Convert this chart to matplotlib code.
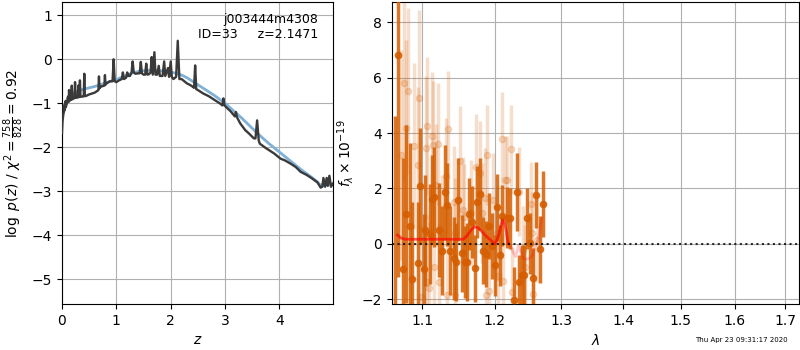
import matplotlib
matplotlib.use("Agg")
import matplotlib.pyplot as plt
from matplotlib.ticker import FixedLocator, FixedFormatter, NullLocator

# ---------------- left panel: p(z) ----------------
z_fit = [0.00, 0.01, 0.02, 0.03, 0.035, 0.04, 0.05, 0.06, 0.065, 0.07, 0.08, 0.09, 0.10, 0.11, 0.12,
         0.125, 0.13, 0.135, 0.15, 0.16, 0.17, 0.18, 0.19, 0.20, 0.22, 0.23, 0.24, 0.25, 0.28, 0.29,
         0.30, 0.31, 0.32, 0.33, 0.34, 0.38, 0.40, 0.41, 0.42, 0.45, 0.50, 0.55, 0.60, 0.65, 0.67,
         0.68, 0.69, 0.72, 0.78, 0.79, 0.80, 0.82, 0.88, 0.90, 0.93, 0.95, 0.97, 1.00, 1.05, 1.10,
         1.12, 1.14, 1.18, 1.20, 1.22, 1.25, 1.28, 1.30, 1.32, 1.35, 1.40, 1.43, 1.45, 1.47, 1.50,
         1.53, 1.55, 1.57, 1.60, 1.63, 1.65, 1.67, 1.70, 1.72, 1.75, 1.78, 1.80, 1.85, 1.88, 1.90,
         1.95, 1.97, 2.00, 2.02, 2.05, 2.10, 2.13, 2.16, 2.20, 2.25, 2.30, 2.35, 2.40, 2.43, 2.45,
         2.47, 2.50, 2.55, 2.60, 2.70, 2.80, 2.90, 2.95, 2.97, 2.99, 3.03, 3.10, 3.18, 3.20, 3.22,
         3.28, 3.37, 3.45, 3.53, 3.56, 3.59, 3.62, 3.64, 3.75, 3.90, 4.02, 4.10, 4.20, 4.30, 4.39,
         4.50, 4.60, 4.70, 4.76, 4.79, 4.81, 4.84, 4.87, 4.89, 4.92, 4.95, 4.99]
logp = [-1.68, -1.40, -1.30, -1.20, -1.05, -1.18, -1.12, -1.10, -0.95, -1.08, -1.05, -1.00, -0.98, -0.85, -0.97,
        -0.95, -0.70, -0.95, -0.93, -0.90, -0.92, -0.60, -0.91, -0.90, -0.89, -0.88, -0.52, -0.88, -0.87, -0.87,
        -0.60, -0.86, -0.86, -0.48, -0.85, -0.85, -0.84, -0.33, -0.84, -0.83, -0.80, -0.78, -0.76, -0.72, -0.70,
        -0.39, -0.66, -0.62, -0.60, -0.36, -0.58, -0.55, -0.50, -0.50, -0.50, 0.00, -0.50, -0.52, -0.48, -0.45,
        -0.30, -0.45, -0.42, -0.30, -0.38, -0.38, -0.30, -0.05, -0.30, -0.33, -0.32, -0.32, -0.06, -0.32, -0.35,
        -0.35, -0.10, -0.35, -0.34, -0.30, 0.05, -0.35, 0.16, -0.35, -0.35, -0.15, -0.38, -0.38, -0.05, -0.38,
        -0.20, -0.40, -0.05, -0.40, -0.45, -0.40, 0.42, -0.45, -0.45, -0.50, -0.55, -0.58, -0.62, -0.65, -0.14,
        -0.68, -0.70, -0.74, -0.78, -0.84, -0.92, -1.00, -1.05, -0.89, -1.05, -1.10, -1.18, -1.30, -1.20, -1.32,
        -1.46, -1.61, -1.70, -1.80, -1.80, -1.39, -1.85, -1.92, -2.02, -2.14, -2.26, -2.30, -2.37, -2.45, -2.56,
        -2.63, -2.71, -2.80, -2.92, -2.90, -2.70, -2.90, -2.70, -2.88, -2.65, -2.90, -2.82]

z_smooth = [0.00, 0.02, 0.05, 0.10, 0.20, 0.30, 0.40, 0.50, 0.60, 0.70, 0.80, 0.90, 1.00, 1.10, 1.20, 1.30,
            1.40, 1.50, 1.60, 1.70, 1.80, 1.90, 2.00, 2.10, 2.20, 2.30, 2.40, 2.50, 2.60, 2.70, 2.80, 2.90,
            3.00, 3.10, 3.20, 3.30, 3.40, 3.50, 3.60, 3.70, 3.80, 3.90, 4.00, 4.10, 4.20, 4.30, 4.40, 4.50,
            4.60, 4.70, 4.75, 4.80, 4.90, 4.99]
logp_smooth = [-1.40, -1.20, -1.05, -0.90, -0.78, -0.72, -0.68, -0.65, -0.62, -0.58, -0.54, -0.50, -0.46, -0.41,
               -0.36, -0.31, -0.28, -0.26, -0.25, -0.25, -0.26, -0.27, -0.29, -0.32, -0.36, -0.42, -0.50, -0.58,
               -0.66, -0.74, -0.82, -0.91, -1.00, -1.11, -1.22, -1.33, -1.45, -1.57, -1.69, -1.80, -1.91, -2.01,
               -2.11, -2.21, -2.31, -2.41, -2.51, -2.60, -2.69, -2.79, -2.86, -2.85, -2.85, -2.85]

# ---------------- right panel: spectrum ----------------
lam_solid = [1.065, 1.069, 1.0757, 1.079, 1.084, 1.087, 1.094, 1.097, 1.102, 1.104, 1.110, 1.113, 1.116, 1.123,
             1.127, 1.131, 1.134, 1.137, 1.1425, 1.146, 1.149, 1.154, 1.158, 1.161, 1.164, 1.168, 1.1725, 1.1755,
             1.179, 1.183, 1.188, 1.1915, 1.196, 1.200, 1.2035, 1.2075, 1.211, 1.2175, 1.223, 1.2275, 1.232, 1.236,
             1.2395, 1.243, 1.248, 1.252, 1.256, 1.2605, 1.267, 1.2715]
flux_solid = [-2.60, 6.81, -0.91, 1.08, 0.65, -1.27, -0.70, 2.09, -0.91, 0.50, 0.35, 1.61, 1.70, 0.50,
              -0.24, 1.86, 1.41, -0.24, -0.52, -0.66, 1.59, -0.34, -0.64, -0.64, 1.08, 0.80, -0.88, 1.51,
              1.80, -0.24, -0.36, 0.65, -0.07, -0.76, 1.32, -0.40, 1.02, 0.95, 0.93, -2.02, 1.87, -1.38,
              -1.12, -1.12, 0.93, 0.02, -1.24, 1.77, -0.19, 1.44]
err_solid = [7.2, 8.0, 4.0, 3.2, 3.0, 2.8, 2.2, 2.1, 2.0, 2.0, 1.8, 1.6, 1.8, 1.7,
             1.6, 1.7, 1.5, 1.6, 1.5, 1.4, 1.5, 1.4, 1.3, 1.4, 1.3, 1.3, 1.2, 1.3,
             1.3, 1.2, 1.2, 1.2, 1.2, 1.1, 1.2, 1.1, 1.1, 1.1, 1.1, 1.2, 1.4, 1.0,
             1.1, 1.1, 1.1, 1.1, 1.1, 1.2, 1.2, 1.2]

lam_faint = [1.072, 1.0765, 1.079, 1.081, 1.089, 1.095, 1.096, 1.098, 1.105, 1.106, 1.107, 1.109, 1.113,
             1.115, 1.1155, 1.119, 1.121, 1.123, 1.126, 1.132, 1.134, 1.135, 1.1435, 1.144, 1.1445, 1.151,
             1.155, 1.156, 1.1665, 1.1735, 1.179, 1.182, 1.186, 1.187, 1.189, 1.1925, 1.198, 1.2035, 1.2045,
             1.211, 1.212, 1.215, 1.2185, 1.224, 1.2245, 1.236, 1.2415, 1.245, 1.2535, 1.2545, 1.257, 1.2625]
flux_faint = [3.21, 5.79, 4.17, 5.52, 3.53, 2.85, 5.25, -1.90, 3.45, -1.36, 4.25, -1.60, 3.89,
              3.56, -0.82, 2.13, 3.60, -1.36, 0.38, 2.45, -1.84, 4.13, 1.52, -1.84, 0.38, 2.99,
              1.23, 0.98, 1.11, 2.79, 2.55, 1.11, 1.65, -1.84, 3.21, -1.68, 1.59, 0.38, -1.15,
              3.77, -1.33, 2.31, 2.31, 3.41, -1.72, 1.88, -0.22, -0.82, 1.44, 0.38, -1.81, 0.14]
err_faint = [3.8, 3.5, 3.2, 3.0, 3.0, 2.8, 3.2, 2.6, 2.6, 2.4, 2.5, 2.4, 2.3,
             2.3, 2.2, 2.2, 2.2, 2.1, 2.1, 2.1, 2.0, 2.1, 2.0, 2.0, 2.0, 2.0,
             1.9, 1.9, 1.9, 1.9, 1.9, 1.8, 1.8, 1.8, 1.8, 1.8, 1.7, 1.7, 1.7,
             1.7, 1.7, 1.6, 1.6, 1.6, 1.6, 1.6, 1.6, 1.5, 1.5, 1.5, 1.5, 1.5]

lam_model = [1.068, 1.072, 1.078, 1.100, 1.130, 1.156, 1.161, 1.1665, 1.1715, 1.1765, 1.182, 1.187, 1.1915,
             1.197, 1.200, 1.2035, 1.2065, 1.211, 1.2145, 1.2165, 1.2195]
flux_model = [0.32, 0.22, 0.17, 0.17, 0.17, 0.17, 0.30, 0.50, 0.62, 0.58, 0.44, 0.30, 0.20,
              0.08, 0.00, 0.15, 0.38, 0.86, 0.75, 0.50, 0.02]
lam_model2 = [1.2195, 1.224, 1.227, 1.2305, 1.235, 1.2385, 1.2415, 1.247, 1.2515, 1.256, 1.2605, 1.264,
              1.266, 1.268, 1.270]
flux_model2 = [0.02, -0.10, -0.30, -0.46, -0.04, -0.30, -0.52, -0.55, -0.52, -0.40, -0.04, 0.15,
               0.38, 0.70, 0.93]

lam_ticks = [1.1, 1.2, 1.3, 1.4, 1.5, 1.6, 1.7]

orange = '#D55E00'

fig = plt.figure(figsize=(8, 3.5), dpi=100)
ax1 = fig.add_axes([0.0775, 0.131, 0.339, 0.863])
ax2 = fig.add_axes([0.49, 0.131, 0.509, 0.863])

ax1.plot(z_smooth, logp_smooth, color='#7fb0d6', lw=2, zorder=2)
ax1.plot(z_fit, logp, color='#3a3a3a', lw=1.7, zorder=3)
ax1.set_xlim(0, 4.99)
ax1.set_ylim(-5.57, 1.3)
ax1.set_xticks([0, 1, 2, 3, 4])
ax1.set_yticks([-5, -4, -3, -2, -1, 0, 1])
ax1.grid(True, color='#b0b0b0', lw=0.8)
ax1.set_axisbelow(True)
ax1.set_xlabel(r'$z$')
ax1.set_ylabel(r'$\log\ p(z)$ / $\chi^2=\frac{758}{828}=0.92$')
ax1.text(0.945, 0.965, 'j003444m4308\nID=33     z=2.1471', ha='right', va='top',
         transform=ax1.transAxes, fontsize=9)

ax2.errorbar(lam_faint, flux_faint, yerr=err_faint, fmt='o', color=orange, alpha=0.2,
             markersize=4.5, elinewidth=2.5, zorder=2)
ax2.errorbar(lam_solid, flux_solid, yerr=err_solid, fmt='o', color=orange, alpha=0.85,
             markersize=4.5, elinewidth=2.5, zorder=3)
ax2.plot(lam_model, flux_model, color='red', lw=2, alpha=0.65, zorder=4)
ax2.plot(lam_model2, flux_model2, color='red', lw=2, alpha=0.22, zorder=4)
ax2.axhline(0, color='k', ls=':', lw=1.5, alpha=0.8, zorder=5)
ax2.set_xscale('log')
ax2.set_xlim(1.061, 1.729)
ax2.set_ylim(-2.17, 8.72)
ax2.xaxis.set_major_locator(FixedLocator(lam_ticks))
ax2.xaxis.set_major_formatter(FixedFormatter([f'{t:.1f}' for t in lam_ticks]))
ax2.xaxis.set_minor_locator(NullLocator())
ax2.set_yticks([-2, 0, 2, 4, 6, 8])
ax2.grid(True, color='#b0b0b0', lw=0.8)
ax2.set_axisbelow(True)
ax2.set_xlabel(r'$\lambda$')
ax2.set_ylabel(r'$f_\lambda\times10^{-19}$')

fig.text(0.984, 0.02, 'Thu Apr 23 09:31:17 2020', ha='right', va='bottom', fontsize=5)

fig.savefig('out.png', dpi=100)
